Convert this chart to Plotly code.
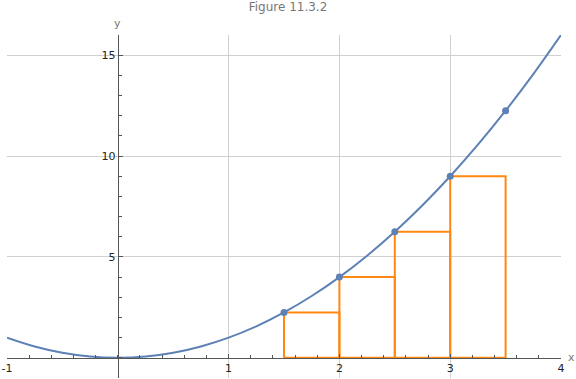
import plotly.graph_objects as go

# Curve y = x^2 sampled (values typed)
curve_x = [-1, -0.75, -0.5, -0.25, 0, 0.25, 0.5, 0.75, 1, 1.25, 1.5, 1.75, 2,
           2.25, 2.5, 2.75, 3, 3.25, 3.5, 3.75, 4]
curve_y = [1, 0.5625, 0.25, 0.0625, 0, 0.0625, 0.25, 0.5625, 1, 1.5625, 2.25,
           3.0625, 4, 5.0625, 6.25, 7.5625, 9, 10.5625, 12.25, 14.0625, 16]

# Sample points
pt_x = [1.5, 2, 2.5, 3, 3.5]
pt_y = [2.25, 4, 6.25, 9, 12.25]

# Rectangles (left endpoint, width, height)
rect_left = [1.5, 2, 2.5, 3]
rect_width = [0.5, 0.5, 0.5, 0.5]
rect_height = [2.25, 4, 6.25, 9]

x_ticks = [-1, 1, 2, 3, 4]
x_ticktext = ["-1", "1", "2", "3", "4"]
y_ticks = [5, 10, 15]
y_ticktext = ["5", "10", "15"]

x_range = [-1, 4]
y_range = [-1, 16]

CURVE = "#5E81B5"
ORANGE = "#FF8811"
GRID = "#D0D0D0"
AXIS = "#555555"

rx, ry = [], []
for l, w, h in zip(rect_left, rect_width, rect_height):
    rx += [l, l, l + w, l + w, l, None]
    ry += [0, h, h, 0, 0, None]

fig = go.Figure()
fig.add_trace(go.Scatter(x=rx, y=ry, mode="lines",
                         line=dict(color=ORANGE, width=2), hoverinfo="skip"))
fig.add_trace(go.Scatter(x=curve_x, y=curve_y, mode="lines",
                         line=dict(color=CURVE, width=2, shape="spline")))
fig.add_trace(go.Scatter(x=pt_x, y=pt_y, mode="markers",
                         marker=dict(color=CURVE, size=7)))

xpos = (0 - y_range[0]) / (y_range[1] - y_range[0])
ypos = (0 - x_range[0]) / (x_range[1] - x_range[0])

fig.update_layout(
    width=576, height=379,
    margin=dict(l=7, r=15, t=35, b=1, autoexpand=False),
    paper_bgcolor="white", plot_bgcolor="white",
    showlegend=False,
    font=dict(family="DejaVu Sans", size=11, color="#222222"),
    title=dict(text="Figure 11.3.2", x=0.5, xanchor="center", xref="container",
               y=1, yanchor="top", yref="container", pad=dict(t=3),
               font=dict(size=12, color="#777777")),
    xaxis=dict(range=x_range, anchor="free", position=xpos, automargin=False,
               tickvals=x_ticks, ticktext=x_ticktext, ticklabeloverflow="allow",
               showgrid=True, gridcolor=GRID, gridwidth=1,
               zeroline=False, showline=True, linecolor=AXIS, linewidth=1,
               ticks="inside", ticklen=4, tickcolor=AXIS,
               minor=dict(dtick=0.2, tick0=0, ticks="inside", ticklen=3,
                          tickcolor=AXIS, showgrid=False)),
    yaxis=dict(range=y_range, anchor="free", position=ypos, automargin=False,
               tickvals=y_ticks, ticktext=y_ticktext, ticklabeloverflow="allow",
               showgrid=True, gridcolor=GRID, gridwidth=1,
               zeroline=False, showline=True, linecolor=AXIS, linewidth=1,
               ticks="inside", ticklen=4, tickcolor=AXIS,
               minor=dict(dtick=1, tick0=0, ticks="inside", ticklen=3,
                          tickcolor=AXIS, showgrid=False)),
    annotations=[
        dict(text="x", x=x_range[1], xref="x", y=0, yref="y",
             xanchor="left", xshift=5, showarrow=False,
             font=dict(size=11, color="#777777")),
        dict(text="y", x=0, xref="x", y=y_range[1], yref="y",
             yanchor="bottom", yshift=3, showarrow=False,
             font=dict(size=11, color="#777777")),
    ],
)

fig.write_html("out.html", config={"displayModeBar": False},
               post_script="document.body.style.margin='0';document.body.style.overflow='hidden';")
